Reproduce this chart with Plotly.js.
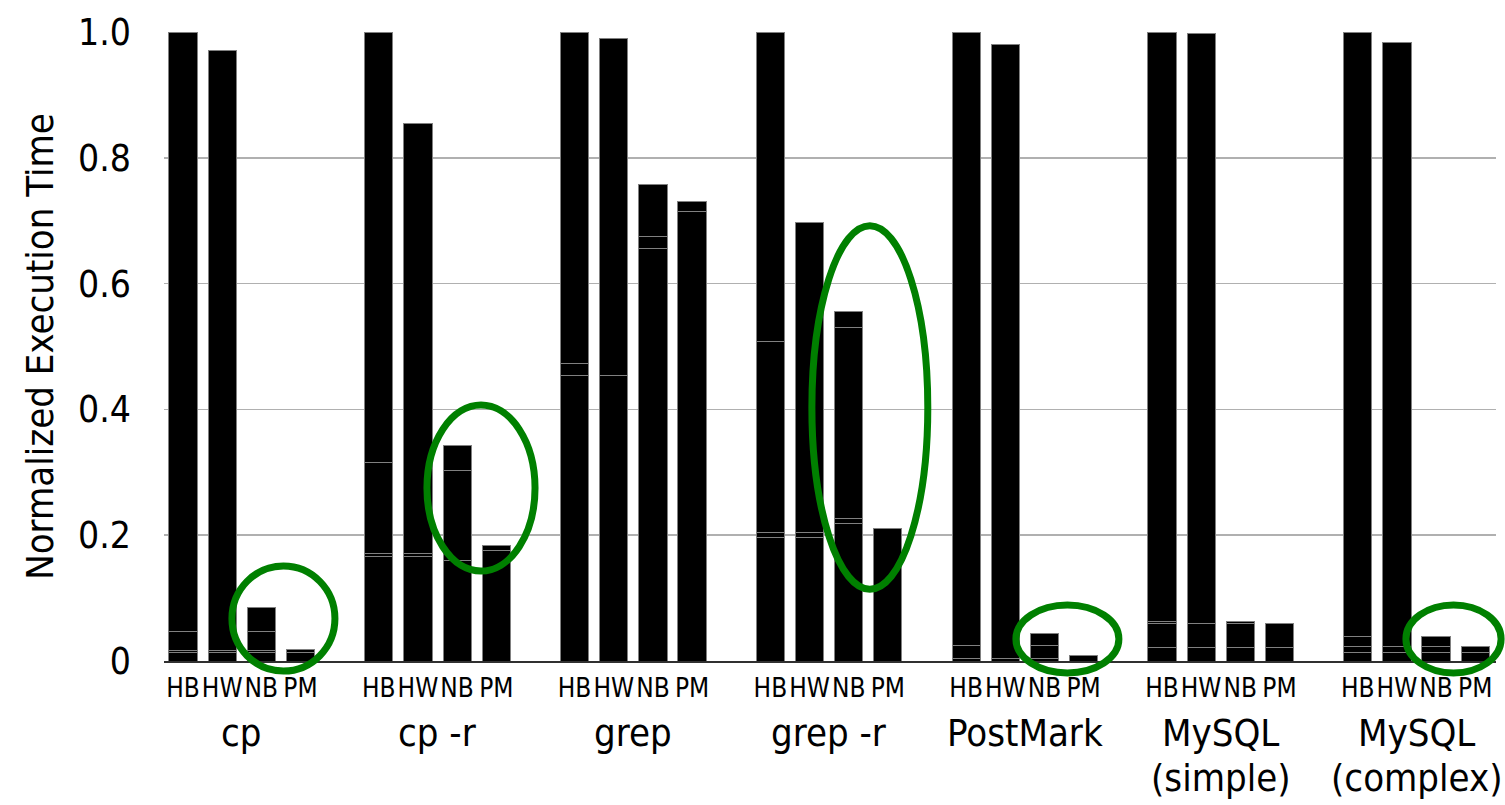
<!DOCTYPE html>
<html>
<head>
<meta charset="utf-8">
<script src="https://cdn.plot.ly/plotly-3.0.1.min.js"></script>
<style>
  html, body { margin: 0; padding: 0; background: #ffffff; }
  #chart { width: 1505px; height: 805px; }
</style>
</head>
<body>
<div id="chart"></div>
<script>
// ---- Data ----
const categories = ['cp', 'cp -r', 'grep', 'grep -r', 'PostMark', 'MySQL<br>(simple)', 'MySQL<br>(complex)'];
const configs = ['HB', 'HW', 'NB', 'PM'];

// stacked components (bottom to top), listed per group as HB, HW, NB, PM
const segA = [
  0.014, 0.014, 0.014, 0.014,
  0.166, 0.166, 0.159, 0.176,
  0.454, 0.454, 0.656, 0.715,
  0.197, 0.197, 0.219, 0.210,
  0.004, 0.004, 0.004, 0.008,
  0.022, 0.022, 0.022, 0.022,
  0.014, 0.014, 0.014, 0.014
];
const segB = [
  0.003, 0.003, 0.003, 0.0035,
  0.005, 0.005, 0, 0,
  0.019, 0, 0.019, 0,
  0.008, 0.008, 0.008, 0,
  0, 0, 0, 0,
  0.038, 0.038, 0.038, 0.038,
  0.009, 0.009, 0.009, 0.009
];
const segC = [
  0.030, 0, 0.030, 0,
  0.145, 0, 0.144, 0,
  0, 0, 0, 0,
  0.303, 0, 0.303, 0,
  0.021, 0, 0.021, 0,
  0.003, 0, 0.003, 0,
  0.016, 0, 0.016, 0
];
const segD = [
  0.953, 0.953, 0.038, 0,
  0.684, 0.684, 0.040, 0.007,
  0.527, 0.536, 0.083, 0.015,
  0.492, 0.492, 0.026, 0,
  0.975, 0.976, 0.018, 0,
  0.937, 0.937, 0, 0,
  0.961, 0.961, 0, 0
];
const yTickVals = [0, 0.2, 0.4, 0.6, 0.8, 1.0];
const yTickText = ['0', '0.2', '0.4', '0.6', '0.8', '1.0'];

// highlight ellipses (in data units: slot index / normalized time)
const ellipses = [
  {x0: 1.25, x1: 3.88, y0: -0.016, y1: 0.151},
  {x0: 6.23, x1: 8.99, y0: 0.143, y1: 0.407},
  {x0: 16.06, x1: 19.02, y0: 0.114, y1: 0.692},
  {x0: 21.27, x1: 23.90, y0: -0.019, y1: 0.089},
  {x0: 31.23, x1: 33.66, y0: -0.019, y1: 0.089}
];

// ---- Build ----
const SLOTS = 5;
const xPos = [], xLabels = [];
categories.forEach((c, g) => configs.forEach((k, i) => { xPos.push(g * SLOTS + i); xLabels.push(k); }));

const FONT = "'DejaVu Sans Condensed', 'Liberation Sans Narrow', Roboto, sans-serif";
const segs = [segA, segB, segC, segD];
const traces = segs.map((s) => ({
  type: 'bar',
  x: xPos,
  y: s.map(v => v === 0 ? null : v),
  width: 0.72,
  marker: {color: '#000000', line: {color: '#808080', width: 1}},
  hoverinfo: 'skip',
  showlegend: false
}));

const xRange = [-0.485, 33.53];
const yRange = [0, 1.0];
const fx = v => (v - xRange[0]) / (xRange[1] - xRange[0]);
const fy = v => (v - yRange[0]) / (yRange[1] - yRange[0]);

const shapes = ellipses.map(e => ({
  type: 'circle',
  xref: 'x domain', yref: 'y domain',
  x0: fx(e.x0), x1: fx(e.x1), y0: fy(e.y0), y1: fy(e.y1),
  line: {color: '#008000', width: 7},
  fillcolor: 'rgba(0,0,0,0)',
  layer: 'above'
}));

const LINE_GAP = 45;
const annotations = [];
categories.forEach((c, g) => {
  c.split('<br>').forEach((line, li) => {
    annotations.push({
      text: line,
      x: g * SLOTS + 1.5, xref: 'x',
      y: 0, yref: 'y',
      yanchor: 'top', xanchor: 'center',
      yshift: -49 - li * LINE_GAP,
      showarrow: false,
      borderpad: 0,
      font: {family: FONT, size: 38, color: '#000000'}
    });
  });
});

const layout = {
  width: 1505, height: 805,
  margin: {l: 164, r: 9, t: 32, b: 144},
  paper_bgcolor: '#ffffff', plot_bgcolor: '#ffffff',
  barmode: 'stack',
  bargap: 0,
  font: {family: FONT, color: '#000000'},
  xaxis: {
    range: xRange,
    tickmode: 'array', tickvals: xPos, ticktext: xLabels,
    tickangle: 0,
    tickfont: {family: FONT, size: 26, color: '#000000'},
    ticks: '', showgrid: false, zeroline: false,
    showline: true, linecolor: '#303030', linewidth: 2,
    ticklabelstandoff: 3,
    fixedrange: true
  },
  yaxis: {
    range: yRange,
    tickmode: 'array', tickvals: yTickVals, ticktext: yTickText,
    tickfont: {family: FONT, size: 37, color: '#000000'},
    ticks: '', showgrid: true, gridcolor: '#b0b0b0', gridwidth: 1.5,
    zeroline: false, showline: false,
    ticklabelstandoff: 32,
    title: {text: 'Normalized Execution Time', font: {family: FONT, size: 38, color: '#000000'}, standoff: 12},
    automargin: false,
    fixedrange: true
  },
  shapes: shapes,
  annotations: annotations
};

Plotly.newPlot('chart', traces, layout, {displayModeBar: false, staticPlot: true});
</script>
</body>
</html>
